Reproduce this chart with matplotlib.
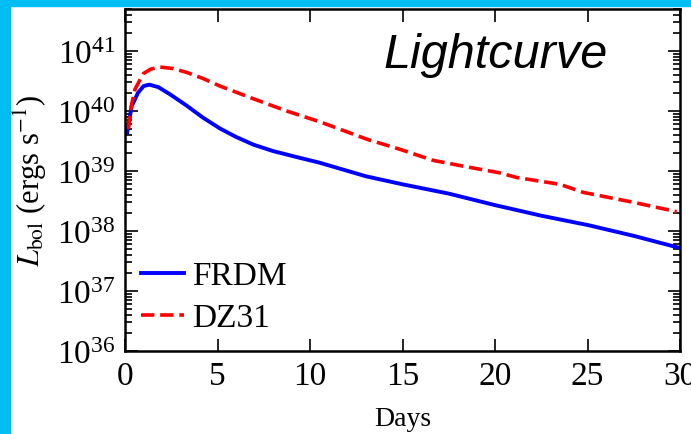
import matplotlib
matplotlib.use('Agg')
import matplotlib.pyplot as plt
from matplotlib.patches import Rectangle
from matplotlib.ticker import LogLocator, LogFormatterMathtext

plt.rcParams['font.family'] = ['Liberation Serif', 'DejaVu Serif']
plt.rcParams['mathtext.fontset'] = 'stix'

# FRDM (blue, solid)
frdm_days = [0.12, 0.36, 0.7, 1.0, 1.31, 1.8, 2.43, 3.33, 4.2, 5.14, 6.0, 6.94,
             8.0, 9.3, 10.5, 13.0, 15.0, 17.5, 20.0, 22.5, 25.0, 27.5, 30.0]
frdm_lum = [4.4e39, 1.2e40, 2.0e40, 2.6e40, 2.75e40, 2.5e40, 1.9e40, 1.23e40,
            7.8e39, 5.1e39, 3.7e39, 2.75e39, 2.15e39, 1.7e39, 1.38e39, 8.2e38,
            6.0e38, 4.2e38, 2.7e38, 1.8e38, 1.26e38, 8.3e37, 5.2e37]

# DZ31 (red, dashed)
dz31_days = [0.18, 0.35, 0.54, 0.99, 1.4, 1.89, 2.6, 3.33, 4.2, 5.14, 6.94, 8.74,
             10.54, 13.06, 14.86, 16.67, 18.5, 20.27, 21.17, 23.51, 24.77, 27.5, 29.82]
dz31_lum = [5.0e39, 1.26e40, 2.3e40, 4.2e40, 5.0e40, 5.4e40, 5.1e40, 4.4e40,
            3.5e40, 2.6e40, 1.6e40, 1.0e40, 6.6e39, 3.4e39, 2.3e39, 1.5e39,
            1.17e39, 9.3e38, 7.8e38, 6.0e38, 4.4e38, 3.0e38, 2.1e38]

x_ticks = [0, 5, 10, 15, 20, 25, 30]

fig = plt.figure(figsize=(6.91, 4.35), dpi=100)
ax = fig.add_axes([125/691, 1 - 352/435, 555/691, 342/435])

# cyan frame strips on the left and top
fig.patches.append(Rectangle((0, 0), 10/691, 1, transform=fig.transFigure,
                             color='#00BDF2', zorder=-1))
fig.patches.append(Rectangle((0, 1 - 7/435), 1, 7/435, transform=fig.transFigure,
                             color='#00BDF2', zorder=-1))

ax.plot(frdm_days, frdm_lum, color='blue', lw=2.8, label='FRDM')
ax.plot(dz31_days, dz31_lum, color='red', lw=2.6, ls='--', label='DZ31')

ax.set_yscale('log')
ax.set_xlim(0, 30)
ax.set_ylim(1e36, 10**41.7)
ax.set_xticks(x_ticks)
ax.yaxis.set_major_locator(LogLocator(base=10, numticks=10))
ax.yaxis.set_minor_locator(LogLocator(base=10, subs=range(2, 10), numticks=20))
ax.yaxis.set_major_formatter(LogFormatterMathtext())

ax.tick_params(which='both', direction='in', top=True, right=True, labelsize=24, width=1.2)
ax.tick_params(which='major', length=9, pad=7)
ax.tick_params(which='minor', length=5)
for s in ax.spines.values():
    s.set_linewidth(1.8)

ax.set_xlabel('Days', fontsize=20, labelpad=11)
ax.set_ylabel(r'$L_{\rm bol}$ (ergs s$^{-1}$)', fontsize=22, labelpad=6)

ax.text(0.87, 0.83, 'Lightcurve', transform=ax.transAxes, ha='right', va='baseline',
        fontsize=35, style='italic', family='Liberation Sans')

ax.legend(loc='lower left', bbox_to_anchor=(-0.014, -0.017), frameon=False, fontsize=24,
          handlelength=1.3, handletextpad=0.25, labelspacing=0.35, borderaxespad=0.3)

fig.savefig('out.png', dpi=100)
